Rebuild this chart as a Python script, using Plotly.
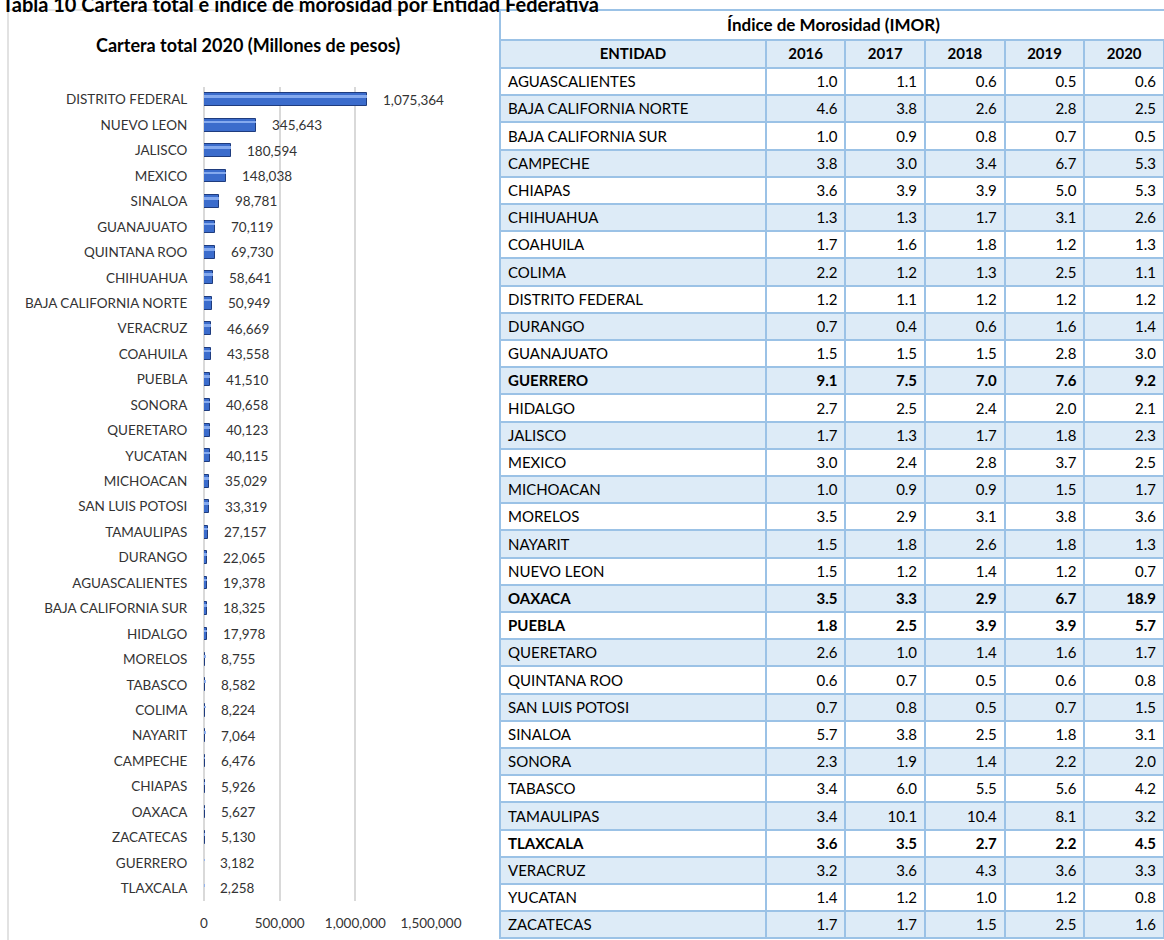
import plotly.graph_objects as go

W, H = 1164, 940

page_title = "Tabla 10 Cartera total e índice de morosidad por Entidad Federativa"
chart_title = "Cartera total 2020 (Millones de pesos)"
table_title = "Índice de Morosidad (IMOR)"

# ---- Bar chart data (Cartera total 2020, millones de pesos) ----
bar_states = [
    "DISTRITO FEDERAL", "NUEVO LEON", "JALISCO", "MEXICO", "SINALOA", "GUANAJUATO",
    "QUINTANA ROO", "CHIHUAHUA", "BAJA CALIFORNIA NORTE", "VERACRUZ", "COAHUILA",
    "PUEBLA", "SONORA", "QUERETARO", "YUCATAN", "MICHOACAN", "SAN LUIS POTOSI",
    "TAMAULIPAS", "DURANGO", "AGUASCALIENTES", "BAJA CALIFORNIA SUR", "HIDALGO",
    "MORELOS", "TABASCO", "COLIMA", "NAYARIT", "CAMPECHE", "CHIAPAS", "OAXACA",
    "ZACATECAS", "GUERRERO", "TLAXCALA",
]
bar_values = [
    1075364, 345643, 180594, 148038, 98781, 70119, 69730, 58641, 50949, 46669,
    43558, 41510, 40658, 40123, 40115, 35029, 33319, 27157, 22065, 19378, 18325,
    17978, 8755, 8582, 8224, 7064, 6476, 5926, 5627, 5130, 3182, 2258,
]
x_ticks = [0, 500000, 1000000, 1500000]

# ---- Table data (IMOR) ----
years = ["2016", "2017", "2018", "2019", "2020"]
table_states = [
    "AGUASCALIENTES", "BAJA CALIFORNIA NORTE", "BAJA CALIFORNIA SUR", "CAMPECHE",
    "CHIAPAS", "CHIHUAHUA", "COAHUILA", "COLIMA", "DISTRITO FEDERAL", "DURANGO",
    "GUANAJUATO", "GUERRERO", "HIDALGO", "JALISCO", "MEXICO", "MICHOACAN",
    "MORELOS", "NAYARIT", "NUEVO LEON", "OAXACA", "PUEBLA", "QUERETARO",
    "QUINTANA ROO", "SAN LUIS POTOSI", "SINALOA", "SONORA", "TABASCO",
    "TAMAULIPAS", "TLAXCALA", "VERACRUZ", "YUCATAN", "ZACATECAS",
]
imor_2016 = [1.0, 4.6, 1.0, 3.8, 3.6, 1.3, 1.7, 2.2, 1.2, 0.7, 1.5, 9.1, 2.7, 1.7, 3.0, 1.0,
             3.5, 1.5, 1.5, 3.5, 1.8, 2.6, 0.6, 0.7, 5.7, 2.3, 3.4, 3.4, 3.6, 3.2, 1.4, 1.7]
imor_2017 = [1.1, 3.8, 0.9, 3.0, 3.9, 1.3, 1.6, 1.2, 1.1, 0.4, 1.5, 7.5, 2.5, 1.3, 2.4, 0.9,
             2.9, 1.8, 1.2, 3.3, 2.5, 1.0, 0.7, 0.8, 3.8, 1.9, 6.0, 10.1, 3.5, 3.6, 1.2, 1.7]
imor_2018 = [0.6, 2.6, 0.8, 3.4, 3.9, 1.7, 1.8, 1.3, 1.2, 0.6, 1.5, 7.0, 2.4, 1.7, 2.8, 0.9,
             3.1, 2.6, 1.4, 2.9, 3.9, 1.4, 0.5, 0.5, 2.5, 1.4, 5.5, 10.4, 2.7, 4.3, 1.0, 1.5]
imor_2019 = [0.5, 2.8, 0.7, 6.7, 5.0, 3.1, 1.2, 2.5, 1.2, 1.6, 2.8, 7.6, 2.0, 1.8, 3.7, 1.5,
             3.8, 1.8, 1.2, 6.7, 3.9, 1.6, 0.6, 0.7, 1.8, 2.2, 5.6, 8.1, 2.2, 3.6, 1.2, 2.5]
imor_2020 = [0.6, 2.5, 0.5, 5.3, 5.3, 2.6, 1.3, 1.1, 1.2, 1.4, 3.0, 9.2, 2.1, 2.3, 2.5, 1.7,
             3.6, 1.3, 0.7, 18.9, 5.7, 1.7, 0.8, 1.5, 3.1, 2.0, 4.2, 3.2, 4.5, 3.3, 0.8, 1.6]
bold_states = ["GUERRERO", "OAXACA", "PUEBLA", "TLAXCALA"]

FONT = "Lato"
GRID = "#D9D9D9"
TBL_LINE = "#9BC2E6"
TBL_FILL = "#DDEBF7"
LBL = "#333333"


def px(x):
    return x / W


def py(y):
    return 1 - y / H


fig = go.Figure()

# main bars
fig.add_trace(go.Bar(
    x=bar_values, y=bar_states, orientation="h", width=0.5,
    marker=dict(color="#3B6CCC", line=dict(color="#1F3C7E", width=1)),
    hoverinfo="skip", showlegend=False,
))
# highlight stripe (3-D look)
fig.add_trace(go.Bar(
    x=bar_values, y=bar_states, orientation="h", width=0.1, offset=-0.17,
    marker=dict(color="#8CB0F2", line=dict(width=0)), opacity=0.9,
    hoverinfo="skip", showlegend=False,
))

# data labels
for s, v in zip(bar_states, bar_values):
    fig.add_annotation(
        x=v, y=s, xref="x", yref="y", text=f"{v:,}", showarrow=False,
        xanchor="left", yanchor="middle", xshift=14,
        font=dict(family=FONT, size=13.5, color=LBL),
    )

# table
imor = [imor_2016, imor_2017, imor_2018, imor_2019, imor_2020]
columns = [list(table_states)]
for arr in imor:
    columns.append([f"{v:.1f}" for v in arr])
row_fill = ["#FFFFFF" if i % 2 == 0 else TBL_FILL for i in range(len(table_states))]
row_weight = ["bold" if s in bold_states else "normal" for s in table_states]

fig.add_trace(go.Table(
    domain=dict(x=[px(500), 1.0], y=[0, py(40)]),
    columnwidth=[267, 80, 80, 80, 80, 80],
    header=dict(
        values=["ENTIDAD"] + years,
        align="center", fill=dict(color=TBL_FILL),
        line=dict(color=TBL_LINE, width=2),
        font=dict(family=FONT, size=15, color="black", weight="bold"), height=28,
    ),
    cells=dict(
        values=columns, align=["left"] + ["right"] * 5,
        fill=dict(color=[row_fill] * 6),
        line=dict(color=TBL_LINE, width=2),
        font=dict(family=FONT, size=15, color="black", weight="normal"),
        height=27.2,
    ),
))
# per-cell bold rows (plotly.js accepts a column x row grid for cell fonts)
fig._data[-1]["cells"]["font"]["weight"] = [row_weight for _ in range(6)]

shapes = [
    dict(type="line", xref="paper", yref="paper", x0=px(8), x1=px(492), y0=py(10), y1=py(10),
         line=dict(color=GRID, width=1.5)),
    dict(type="line", xref="paper", yref="paper", x0=px(8), x1=px(8), y0=py(10), y1=py(945),
         line=dict(color=GRID, width=1.5)),
    dict(type="rect", xref="paper", yref="paper", x0=px(500), x1=px(1172), y0=py(40), y1=py(10),
         line=dict(color=TBL_LINE, width=2), fillcolor="white"),
]

fig.add_annotation(
    x=px(833), y=py(25), xref="paper", yref="paper", text=table_title,
    showarrow=False, xanchor="center", yanchor="middle",
    font=dict(family=FONT, size=17, color="black", weight="bold"),
)
fig.add_annotation(
    x=px(248), y=py(45), xref="paper", yref="paper", text=chart_title,
    showarrow=False, xanchor="center", yanchor="middle",
    font=dict(family=FONT, size=18, color="black", weight="bold"),
)
fig.add_annotation(
    x=0, y=py(4), xref="paper", yref="paper", text=page_title,
    showarrow=False, xanchor="left", yanchor="middle",
    font=dict(family=FONT, size=20, color="black", weight="bold"),
)

fig.update_layout(
    width=W, height=H, margin=dict(l=0, r=0, t=0, b=0),
    paper_bgcolor="white", plot_bgcolor="white",
    barmode="overlay", bargap=0, showlegend=False,
    shapes=shapes,
    xaxis=dict(
        domain=[px(204), px(431)], range=[0, 1500000], tickvals=x_ticks,
        tickformat=",d", showgrid=True, gridcolor=GRID, gridwidth=1.5,
        zeroline=True, zerolinecolor=GRID, zerolinewidth=1.5, showline=False,
        ticks="outside", ticklen=10, tickcolor="rgba(0,0,0,0)",
        tickfont=dict(family=FONT, size=13.5, color=LBL), automargin=False,
        fixedrange=True,
    ),
    yaxis=dict(
        domain=[py(901), py(87)], type="category", autorange="reversed",
        showgrid=False, zeroline=False, showline=False,
        ticks="outside", ticklen=13, tickcolor="rgba(0,0,0,0)",
        tickfont=dict(family=FONT, size=13.5, color=LBL), automargin=False,
        fixedrange=True,
    ),
)

fig.write_html(
    "out.html",
    config={"displayModeBar": False},
    post_script="document.body.style.margin='0';document.body.style.overflow='hidden';",
)
